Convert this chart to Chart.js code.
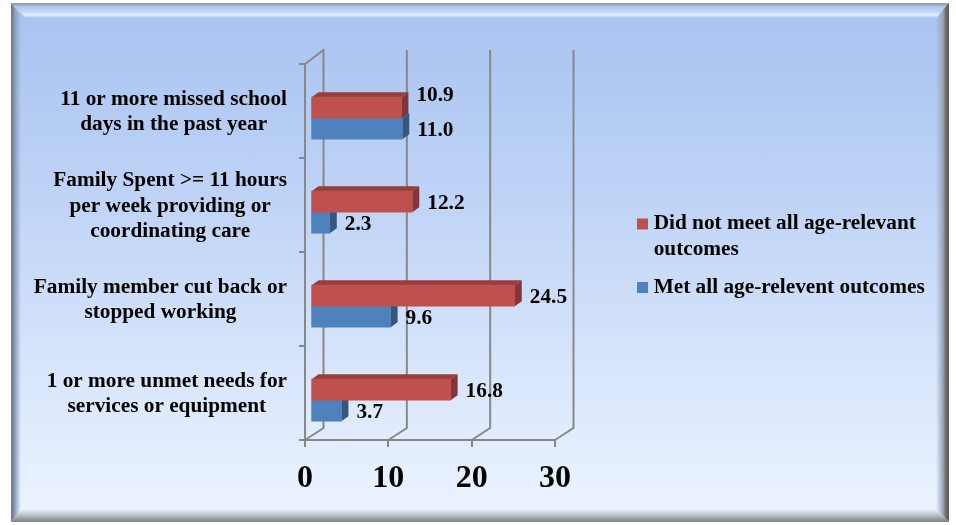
<!DOCTYPE html>
<html>
<head>
<meta charset="utf-8">
<style>
  html, body { margin: 0; padding: 0; background: #fff; }
  #wrap { position: relative; width: 956px; height: 525px; overflow: hidden; }
  #panel {
    position: absolute; left: 11px; top: 3px; width: 938px; height: 519px;
    background: linear-gradient(180deg, #a7c3ef 0%, #bdd2f6 35%, #d6e4fb 68%, #edf4ff 100%);
  }
  .edge { position: absolute; left: 0; top: 0; width: 100%; height: 100%; }
  #top { background: linear-gradient(180deg, #a0a0a0 0, #a0a0a0 2px, #a9c4f0 3px, #c2d9f8 9px, #e4f1ff 12px, #a9c4f0 15px, rgba(169,196,240,0) 16px);
         clip-path: polygon(0 0, 100% 0, calc(100% - 12px) 15px, 15px 15px); }
  #left { background: linear-gradient(90deg, #777 0, #7d8494 2px, #8fa0bf 4px, rgba(160,185,225,0) 10px);
          clip-path: polygon(0 0, 12px 15px, 12px calc(100% - 13px), 0 100%); }
  #right { background: linear-gradient(270deg, #5c5c5c 0, #6a6a6a 3px, #9aa4b8 6px, rgba(200,215,240,0) 13px);
           clip-path: polygon(100% 0, 100% 100%, calc(100% - 13px) calc(100% - 13px), calc(100% - 13px) 15px); }
  #bottom { background: linear-gradient(0deg, #808080 0, #8e9096 2px, #b4b8c2 6px, rgba(230,238,252,0) 13px);
            clip-path: polygon(0 100%, 100% 100%, calc(100% - 13px) calc(100% - 13px), 12px calc(100% - 13px)); }
  canvas { position: absolute; left: 0; top: 0; }
</style>
</head>
<body>
<div id="wrap">
  <div id="panel">
    <div class="edge" id="top"></div>
    <div class="edge" id="left"></div>
    <div class="edge" id="right"></div>
    <div class="edge" id="bottom"></div>
  </div>
  <canvas id="chart" width="956" height="525"></canvas>
</div>
<script src="https://cdn.jsdelivr.net/npm/chart.js@4"></script>
<script>
const categories = [
  ["11 or more missed school", "days in the past year"],
  ["Family Spent >= 11 hours", "per week providing or", "coordinating care"],
  ["Family member cut back or", "stopped working"],
  ["1 or more unmet needs for", "services or equipment"]
];
const didNotMeet = [10.9, 12.2, 24.5, 16.8];
const metAll = [11.0, 2.3, 9.6, 3.7];
const xTicks = [0, 10, 20, 30];

const serif = "'Liberation Serif', 'Times New Roman', serif";
const axisGray = "#888888";
const darkSides = ["#82363a", "#34567f"];
const darkTops = ["#933f3d", "#3f6896"];

// fake 3d: back wall lines, bars pushed into the box, side and top faces
const box3d = {
  id: "box3d",
  beforeDatasetsDraw(chart) {
    const { ctx, chartArea, scales } = chart;
    ctx.save();
    ctx.strokeStyle = axisGray;
    ctx.lineWidth = 2;
    xTicks.forEach((t) => {
      const x = scales.x.getPixelForValue(t);
      ctx.beginPath();
      ctx.moveTo(x, chartArea.bottom);
      ctx.lineTo(x + 18.5, chartArea.bottom - 12);
      ctx.lineTo(x + 18.5, chartArea.top - 14);
      if (t === 0) ctx.lineTo(x, chartArea.top);
      ctx.stroke();
    });
    ctx.restore();
    ctx.save();
    ctx.translate(5.6, 7.2);
  },
  beforeDatasetDraw(chart, args) {
    const { ctx } = chart;
    const dx = 7;
    const dy = -5;
    chart.getDatasetMeta(args.index).data.forEach((bar) => {
      const top = bar.y - bar.height / 2;
      const bottom = bar.y + bar.height / 2;
      ctx.fillStyle = darkTops[args.index];
      ctx.beginPath();
      ctx.moveTo(bar.base, top);
      ctx.lineTo(bar.base + dx, top + dy);
      ctx.lineTo(bar.x + dx, top + dy);
      ctx.lineTo(bar.x, top);
      ctx.fill();
      ctx.fillStyle = darkSides[args.index];
      ctx.beginPath();
      ctx.moveTo(bar.x, top);
      ctx.lineTo(bar.x + dx, top + dy);
      ctx.lineTo(bar.x + dx, bottom + dy);
      ctx.lineTo(bar.x, bottom);
      ctx.fill();
    });
  },
  afterDatasetsDraw(chart) {
    const { ctx } = chart;
    ctx.fillStyle = "#000";
    ctx.font = "bold 21.3px " + serif;
    ctx.textAlign = "left";
    ctx.textBaseline = "middle";
    chart.data.datasets.forEach((ds, d) => {
      chart.getDatasetMeta(d).data.forEach((bar, i) => {
        // the top red label sits above its bar in the original
        const up = d === 0 && i === 0 ? -12 : 2;
        ctx.fillText(ds.data[i].toFixed(1), bar.x + 15, bar.y + up);
      });
    });
    ctx.restore();

    // category labels: block is right aligned, lines centered inside it.
    // chart.js can't do that with its own tick labels
    const yScale = chart.scales.y;
    ctx.save();
    ctx.fillStyle = "#000";
    ctx.font = "bold 21.3px " + serif;
    ctx.textAlign = "center";
    ctx.textBaseline = "middle";
    categories.forEach((lines, i) => {
      const widest = Math.max(...lines.map((l) => ctx.measureText(l).width));
      const cx = yScale.right - 18 - widest / 2;
      const first = yScale.getPixelForTick(i) + 1 - (lines.length - 1) * 25.3 / 2;
      lines.forEach((l, n) => ctx.fillText(l, cx, first + n * 25.3));
    });
    ctx.restore();
  },
  afterLayout(chart) {
    // legend sits right of the plot, not inside it. draw() clips to these edges
    chart.legend.left = 629;
    chart.legend.right = 950;
    chart.legend.top = 191.5;
    chart.legend.bottom = 320;
  }
};

new Chart(document.getElementById("chart"), {
  type: "bar",
  plugins: [box3d],
  data: {
    labels: categories,
    datasets: [
      { label: ["Did not meet all age-relevant", "outcomes"], data: didNotMeet, backgroundColor: "#c0504d", barThickness: 21, clip: false },
      { label: "Met all age-relevent outcomes", data: metAll, backgroundColor: "#4f81bd", barThickness: 21, clip: false }
    ]
  },
  options: {
    indexAxis: "y",
    responsive: false,
    animation: false,
    layout: { padding: { top: 64, right: 401, left: 0, bottom: 0 } },
    scales: {
      x: {
        min: 0,
        max: 30,
        afterFit: (s) => { s.height = 85; },
        afterBuildTicks: (s) => { s.ticks = xTicks.map((v) => ({ value: v })); },
        grid: { drawOnChartArea: false, color: axisGray, lineWidth: 2, tickLength: 7 },
        border: { color: axisGray, width: 2 },
        ticks: { color: "#000", padding: 13, maxRotation: 0, font: { family: serif, size: 32, weight: "bold" } }
      },
      y: {
        afterFit: (s) => { s.width = 305; },
        grid: { drawOnChartArea: false, color: axisGray, lineWidth: 2, tickLength: 6 },
        border: { color: axisGray, width: 2 },
        ticks: { display: false, autoSkip: false }
      }
    },
    plugins: {
      tooltip: { enabled: false },
      legend: {
        position: "chartArea",
        maxWidth: 320,
        labels: {
          color: "#000",
          // tiny box with a thick stroke, keeps the text close to the swatch
          boxWidth: 1,
          boxHeight: 1,
          padding: 13,
          font: { family: serif, size: 21.3, weight: "bold", lineHeight: 1.19 },
          generateLabels: (chart) => chart.data.datasets.map((ds, i) => ({
            text: ds.label,
            fillStyle: ds.backgroundColor,
            strokeStyle: ds.backgroundColor,
            lineWidth: 10,
            fontColor: "#000",
            hidden: false,
            datasetIndex: i
          }))
        }
      }
    }
  }
});
</script>
</body>
</html>
